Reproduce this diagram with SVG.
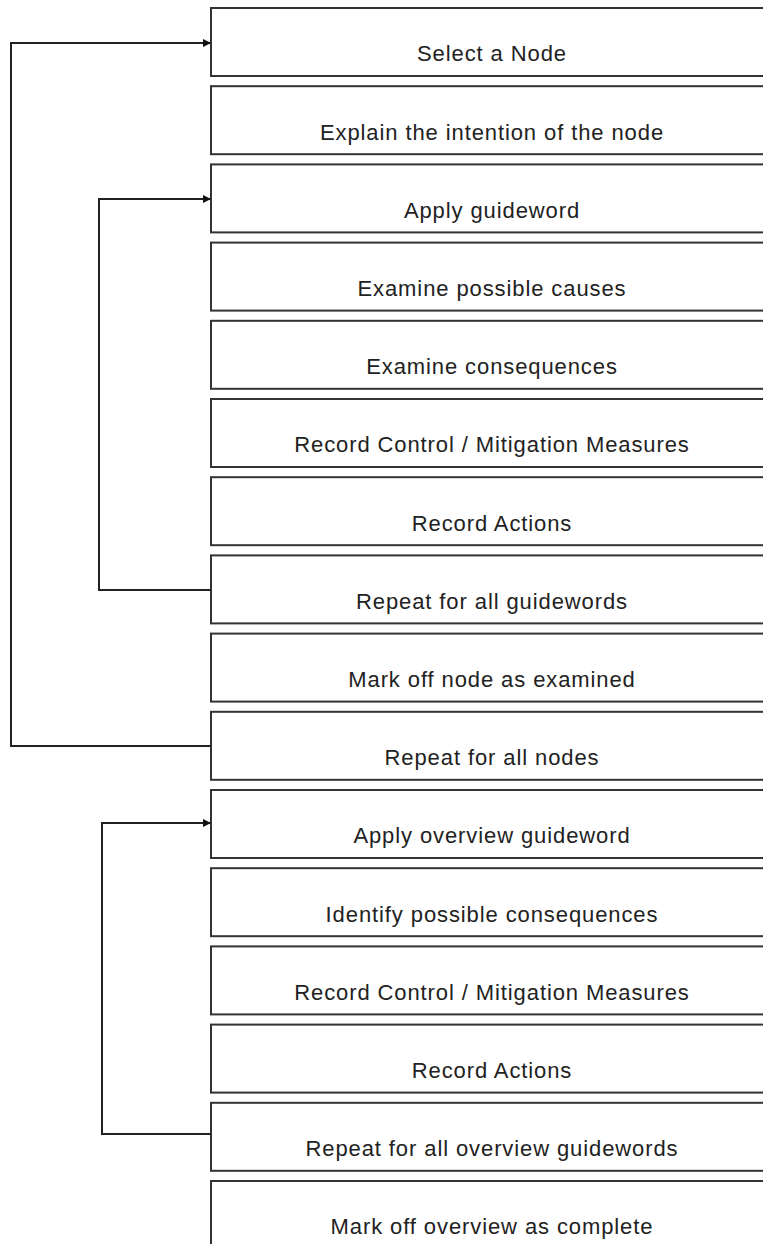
<svg xmlns="http://www.w3.org/2000/svg" width="763" height="1244" viewBox="0 0 763 1244">
<style>
.box{fill:#fff;stroke:#333;stroke-width:2}
.lbl{font-family:"Liberation Sans",Arial,sans-serif;font-size:22px;fill:#222;text-anchor:middle;letter-spacing:0.9px}
.con{fill:none;stroke:#222;stroke-width:2}
</style>
<defs>
<marker id="arr" markerWidth="8" markerHeight="8" refX="7" refY="4" orient="auto" markerUnits="userSpaceOnUse">
<path d="M0,0 L8,4 L0,8 Z" fill="#111"/>
</marker>
</defs>
<rect width="763" height="1244" fill="#fff"/>
<g id="n1"><rect class="box" x="211" y="8" width="562" height="68"/><text class="lbl" x="492" y="61">Select a Node</text></g>
<g id="n2"><rect class="box" x="211" y="86.2" width="562" height="68"/><text class="lbl" x="492" y="139.5">Explain the intention of the node</text></g>
<g id="n3"><rect class="box" x="211" y="164.4" width="562" height="68"/><text class="lbl" x="492" y="217.8">Apply guideword</text></g>
<g id="n4"><rect class="box" x="211" y="242.6" width="562" height="68"/><text class="lbl" x="492" y="296">Examine possible causes</text></g>
<g id="n5"><rect class="box" x="211" y="320.8" width="562" height="68"/><text class="lbl" x="492" y="374.2">Examine consequences</text></g>
<g id="n6"><rect class="box" x="211" y="399" width="562" height="68"/><text class="lbl" x="492" y="452.4">Record Control / Mitigation Measures</text></g>
<g id="n7"><rect class="box" x="211" y="477.2" width="562" height="68"/><text class="lbl" x="492" y="530.6">Record Actions</text></g>
<g id="n8"><rect class="box" x="211" y="555.4" width="562" height="68"/><text class="lbl" x="492" y="608.8">Repeat for all guidewords</text></g>
<g id="n9"><rect class="box" x="211" y="633.6" width="562" height="68"/><text class="lbl" x="492" y="687">Mark off node as examined</text></g>
<g id="n10"><rect class="box" x="211" y="711.8" width="562" height="68"/><text class="lbl" x="492" y="765.2">Repeat for all nodes</text></g>
<g id="n11"><rect class="box" x="211" y="790" width="562" height="68"/><text class="lbl" x="492" y="843.4">Apply overview guideword</text></g>
<g id="n12"><rect class="box" x="211" y="868.2" width="562" height="68"/><text class="lbl" x="492" y="921.6">Identify possible consequences</text></g>
<g id="n13"><rect class="box" x="211" y="946.4" width="562" height="68"/><text class="lbl" x="492" y="999.8">Record Control / Mitigation Measures</text></g>
<g id="n14"><rect class="box" x="211" y="1024.6" width="562" height="68"/><text class="lbl" x="492" y="1078">Record Actions</text></g>
<g id="n15"><rect class="box" x="211" y="1102.8" width="562" height="68"/><text class="lbl" x="492" y="1156.2">Repeat for all overview guidewords</text></g>
<g id="n16"><rect class="box" x="211" y="1181" width="562" height="68"/><text class="lbl" x="492" y="1234.4">Mark off overview as complete</text></g>
<g id="connectors">
<path class="con" d="M211,746 H11 V43 H210" marker-end="url(#arr)"/>
<path class="con" d="M211,590 H99 V199 H210" marker-end="url(#arr)"/>
<path class="con" d="M211,1134 H102 V823 H210" marker-end="url(#arr)"/>
</g>
</svg>
